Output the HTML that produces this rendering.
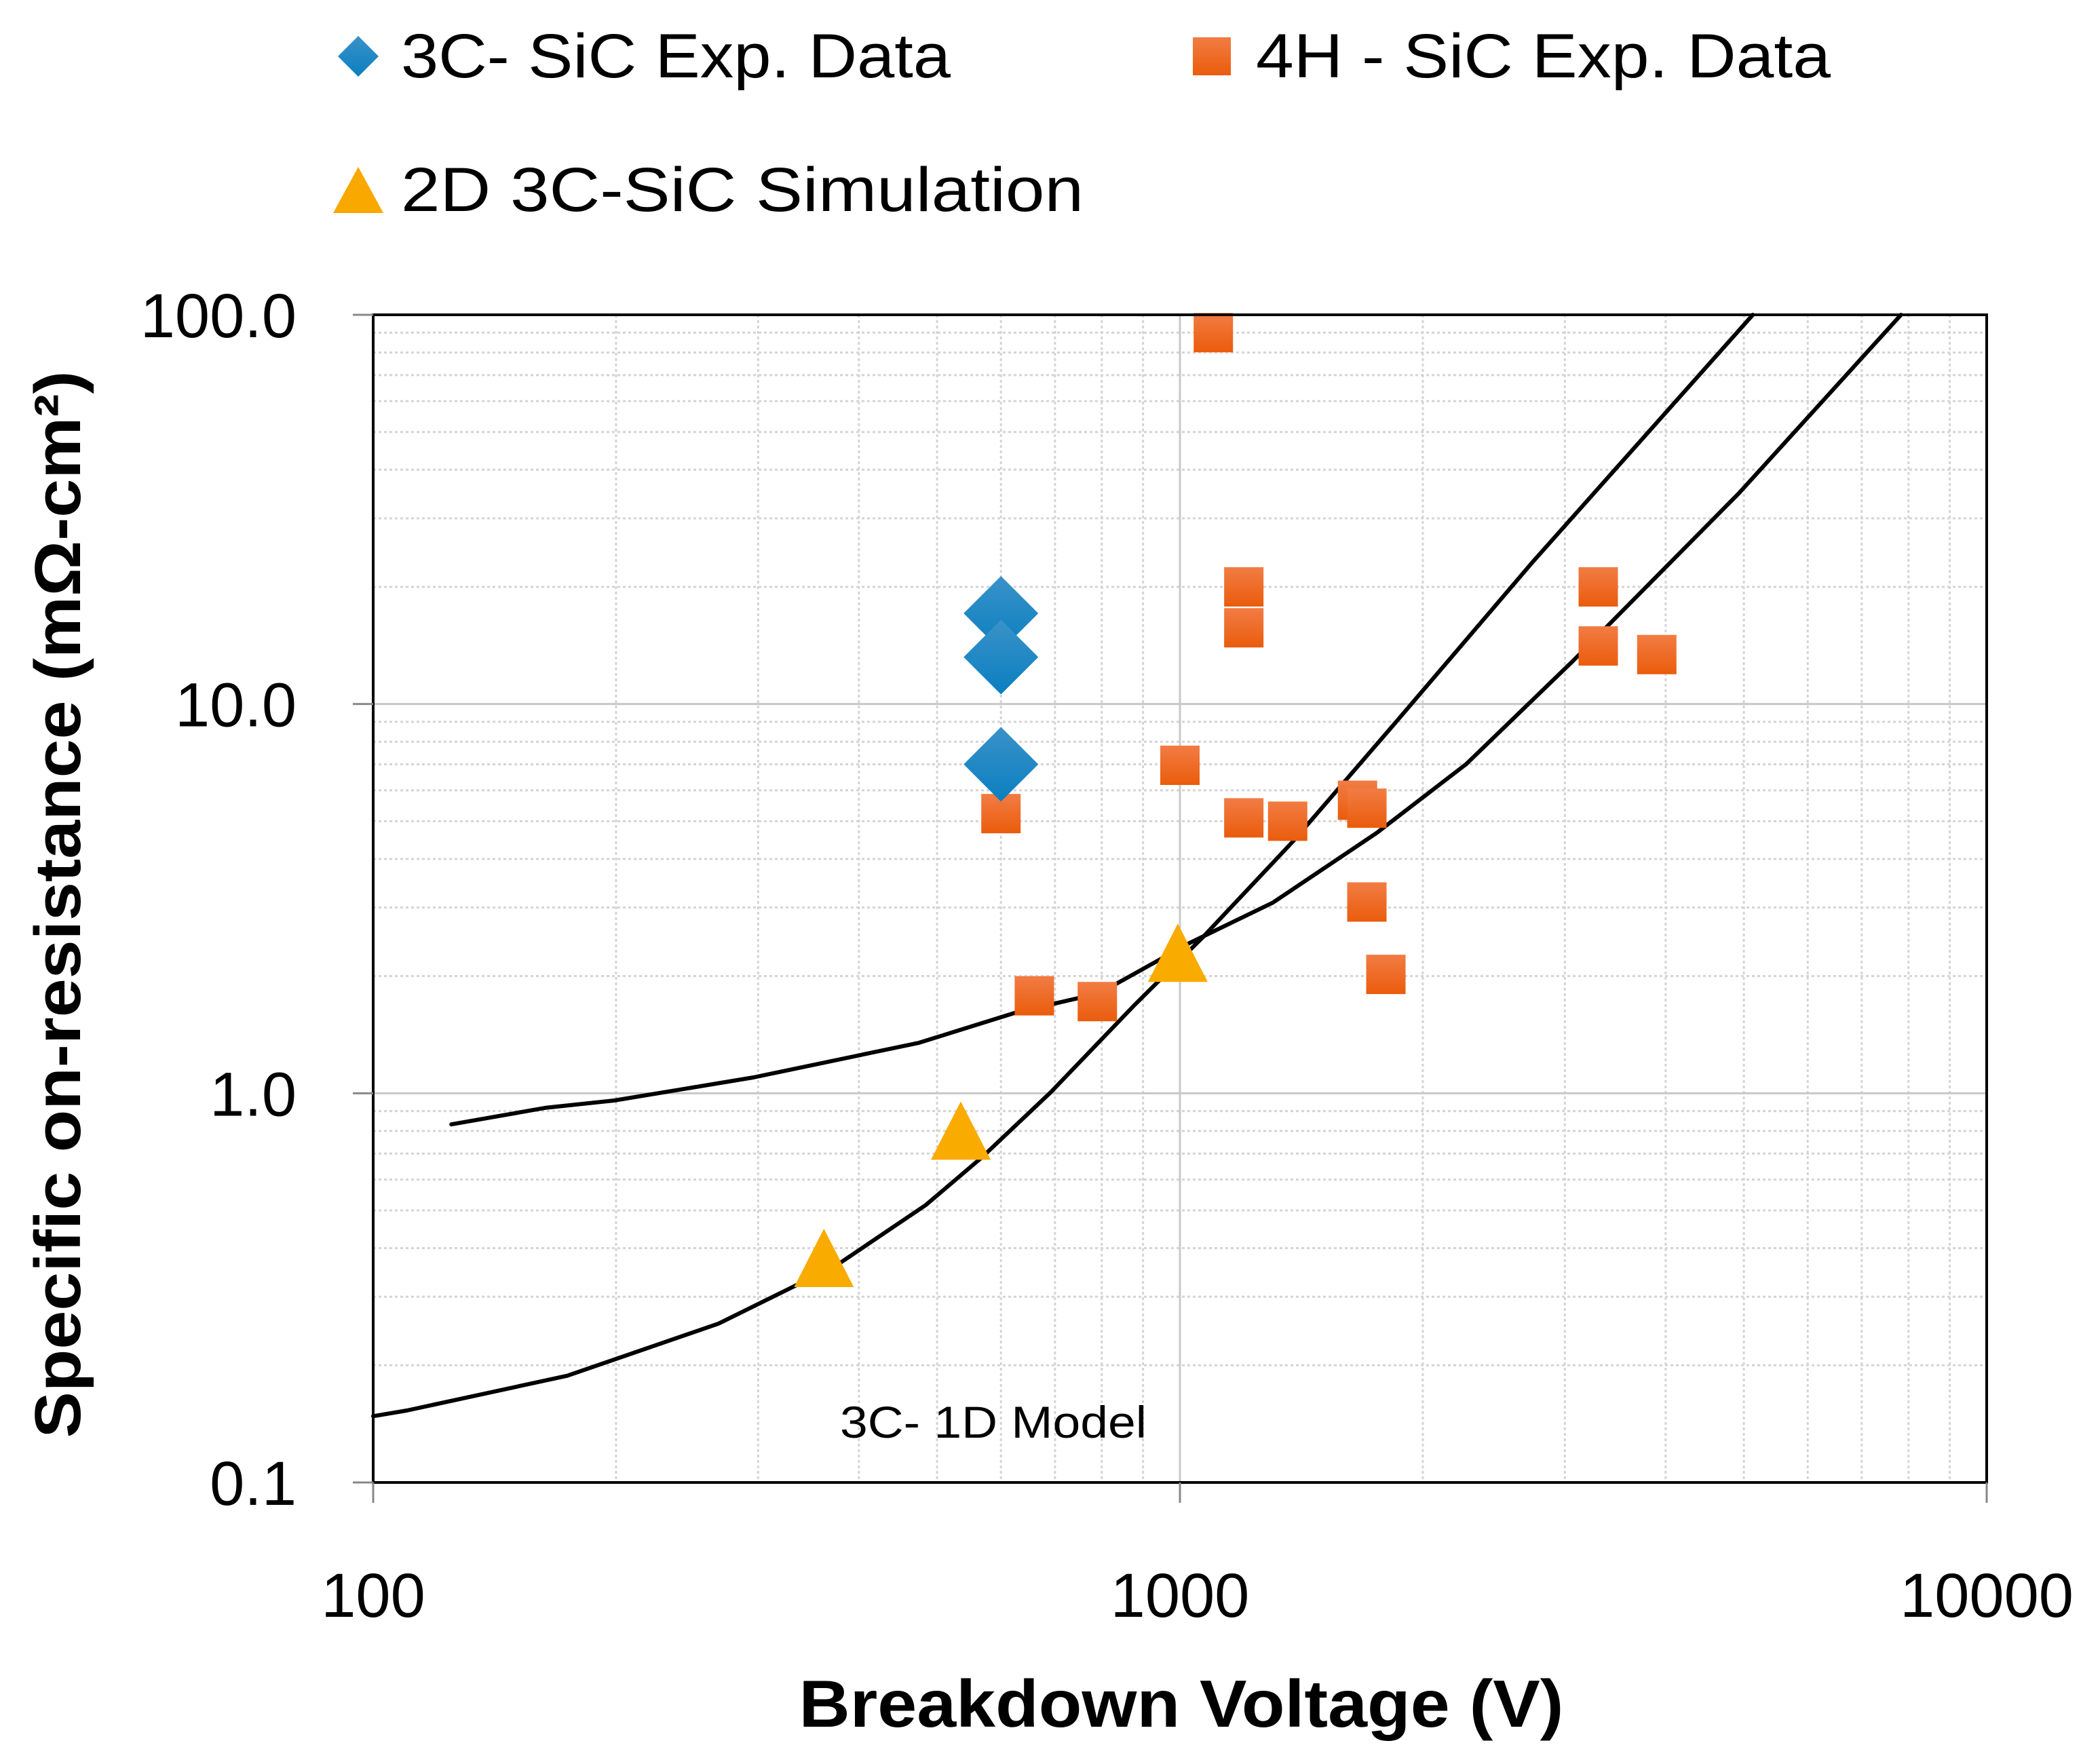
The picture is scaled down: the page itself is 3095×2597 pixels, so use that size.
<!DOCTYPE html>
<html><head><meta charset="utf-8"><style>
html,body{margin:0;padding:0;background:#fff;}
svg{display:block;font-family:"Liberation Sans",sans-serif;}
</style></head><body>
<svg id="chart" width="3095" height="2597" xmlns="http://www.w3.org/2000/svg">
<defs>
<linearGradient id="og" x1="0" y1="0" x2="0" y2="1"><stop offset="0" stop-color="#f27c44"/><stop offset="1" stop-color="#ea5c0c"/></linearGradient>
<linearGradient id="bg" x1="0" y1="0" x2="0" y2="1"><stop offset="0" stop-color="#3a92c8"/><stop offset="1" stop-color="#0a7fc0"/></linearGradient>
</defs>
<g id="grid"></g>
<g id="curves"></g>
<g id="marks"></g>
<rect x="550" y="464" width="2378" height="1721" fill="none" stroke="#000" stroke-width="4"/>
<g id="ticks" font-size="92"></g>
<text x="1741" y="2545" font-size="98" font-weight="bold" text-anchor="middle" textLength="1127" lengthAdjust="spacingAndGlyphs">Breakdown Voltage (V)</text>
<text transform="translate(118,1333) rotate(-90)" font-size="96" font-weight="bold" text-anchor="middle" textLength="1573" lengthAdjust="spacingAndGlyphs">Specific on-resistance (mΩ-cm²)</text>
<text x="1238" y="2119" font-size="66" textLength="452" lengthAdjust="spacingAndGlyphs">3C- 1D Model</text>
<g font-size="92">
<g>
<polygon points="528,53 558,83 528,113 498,83" fill="url(#bg)"/>
<text x="591" y="114" textLength="810" lengthAdjust="spacingAndGlyphs">3C- SiC Exp. Data</text></g>
<g>
<rect x="1758" y="55" width="56" height="56" fill="url(#og)"/>
<text x="1851" y="114" textLength="847" lengthAdjust="spacingAndGlyphs">4H - SiC Exp. Data</text></g>
<g>
<polygon points="528,246 565,314 491,314" fill="#f9a800"/>
<text x="591" y="311" textLength="1006" lengthAdjust="spacingAndGlyphs">2D 3C-SiC Simulation</text></g>
</g>
</svg>
<script>
const blueX=[600,600,600];
const blueY=[17.1,13.2,7.0];
const orangeX=[1100,1200,1200,3300,3300,3900,1000,600,1200,1360,1660,1705,1705,1800,660,790];
const orangeY=[90,20,15.7,20,14.1,13.4,6.96,5.23,5.1,5.0,5.66,5.4,3.1,2.02,1.78,1.72];
const triX=[362,535,994];
const triY=[0.37,0.786,2.25];
const curveAX=[100,110,174,268,375,484,568,692,876,1068,1381,1857,2733,5130];
const curveAY=[0.148,0.153,0.188,0.256,0.361,0.516,0.684,1.007,1.675,2.52,4.44,9.04,23.1,100];
const curveBX=[125,164,199,296,475,627,794,1027,1304,1752,2264,3070,4930,7830];
const curveBY=[0.832,0.918,0.958,1.098,1.348,1.614,1.806,2.43,3.09,4.66,7.01,12.9,34.8,100];
const xTicks=[100,1000,10000];
const xTickLabels=["100","1000","10000"];
const yTicks=[0.1,1,10,100];
const yTickLabels=["0.1","1.0","10.0","100.0"];
const L=550,R=2928,T=464,B=2185;
const sx=v=>L+(Math.log10(v)-2)*(R-L)/2;
const sy=v=>B-(Math.log10(v)+1)*(B-T)/3;
const NS="http://www.w3.org/2000/svg";
function mk(tag,attrs,parent){const e=document.createElementNS(NS,tag);for(const k in attrs)e.setAttribute(k,attrs[k]);parent.appendChild(e);return e;}
const grid=document.getElementById('grid');
for(let d=100;d<10000;d*=10){for(let m=1;m<10;m++){const v=d*m;if(v===100)continue;const x=sx(v);
const l=mk('line',{x1:x,x2:x,y1:T,y2:B,stroke:m===1?'#c8c8c8':'#d4d4d4','stroke-width':3,'stroke-dasharray':m===1?'none':'4 4'},grid);

}}
for(let d=0.1;d<99;d*=10){for(let m=1;m<10;m++){const v=d*m;if(Math.abs(v-0.1)<1e-9)continue;const y=sy(v);
const l=mk('line',{x1:L,x2:R,y1:y,y2:y,stroke:m===1?'#c8c8c8':'#d4d4d4','stroke-width':3,'stroke-dasharray':m===1?'none':'4 4'},grid);

}}
const ticks=document.getElementById('ticks');
xTicks.forEach((v,i)=>{const t=mk('text',{x:sx(v),y:2383,'text-anchor':'middle'},ticks);t.textContent=xTickLabels[i];


const tk=mk('line',{x1:sx(v),x2:sx(v),y1:B,y2:B+30,stroke:'#888','stroke-width':3},ticks);

});
yTicks.forEach((v,i)=>{const t=mk('text',{x:437,y:sy(v)+33,'text-anchor':'end'},ticks);t.textContent=yTickLabels[i];


const tk=mk('line',{x1:L-30,x2:L,y1:sy(v),y2:sy(v),stroke:'#888','stroke-width':3},ticks);

});
const curves=document.getElementById('curves');
function path(xs,ys,name){let d='';xs.forEach((x,i)=>{d+=(i?'L':'M')+sx(x).toFixed(1)+','+sy(ys[i]).toFixed(1);});
const p=mk('path',{d:d,fill:'none',stroke:'#000','stroke-width':6,'stroke-linejoin':'round','stroke-linecap':'round'},curves);

}
path(curveAX,curveAY,'curve-3c-1d-model');
path(curveBX,curveBY,'curve-4h-model');
const marks=document.getElementById('marks');
orangeX.forEach((x,i)=>{const cx=sx(x),cy=sy(orangeY[i]);
const r=mk('rect',{x:cx-29,y:cy-29,width:58,height:58,fill:'url(#og)'},marks);

});
blueX.forEach((x,i)=>{const cx=sx(x),cy=sy(blueY[i]);
const p=mk('polygon',{points:`${cx},${cy-55} ${cx+55},${cy} ${cx},${cy+55} ${cx-55},${cy}`,fill:'url(#bg)'},marks);

});
triX.forEach((x,i)=>{const cx=sx(x),cy=sy(triY[i]);
const p=mk('polygon',{points:`${cx},${cy-48} ${cx+44},${cy+38} ${cx-44},${cy+38}`,fill:'#f9ab00'},marks);

});
</script>
</body></html>
